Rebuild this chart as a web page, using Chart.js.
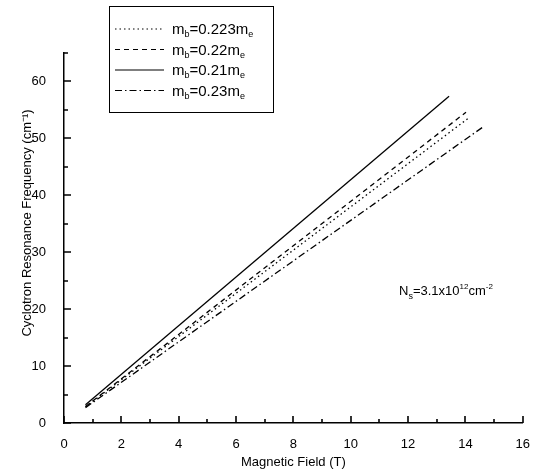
<!DOCTYPE html>
<html>

<head>
  <title>Cyclotron Resonance</title>
  <script src="https://cdn.jsdelivr.net/npm/chart.js"></script>
  <style>
    body { margin: 0; background: #fff; }
  </style>
</head>

<body>
  <canvas id="crChart" width="536" height="474"></canvas>
  <script>
    // effective masses (in units of m_e), one line each
    const massLabels = ['0.223', '0.22', '0.21', '0.23'];
    const lineDashes = [[1.5, 3], [5, 4], [], [7, 3, 1.5, 3]];

    // magnetic field (T) and resonance frequency (cm-1) at both ends of each line
    const fieldM0223 = [0.75, 14.09];
    const freqM0223 = [2.85, 53.5];
    const fieldM022 = [0.75, 14.02];
    const freqM022 = [2.9, 54.6];
    const fieldM021 = [0.75, 13.43];
    const freqM021 = [3.2, 57.4];
    const fieldM023 = [0.75, 14.64];
    const freqM023 = [2.7, 52.1];

    const xTicks = [0, 2, 4, 6, 8, 10, 12, 14, 16];
    const xMinor = [1, 3, 5, 7, 9, 11, 13, 15];
    const yTicks = [0, 10, 20, 30, 40, 50, 60];
    const yMinor = [5, 15, 25, 35, 45, 55, 65];

    const FONT = '"Liberation Sans", Arial, sans-serif';

    function toPoints(xs, ys) {
      return xs.map(function (x, i) { return { x: x, y: ys[i] }; });
    }

    const seriesData = [
      toPoints(fieldM0223, freqM0223),
      toPoints(fieldM022, freqM022),
      toPoints(fieldM021, freqM021),
      toPoints(fieldM023, freqM023)
    ];

    // draws runs of text with sub/superscripts: [text, size, baseline shift]
    function richText(ctx, parts, x, y) {
      parts.forEach(function (p) {
        ctx.font = p[1] + 'px ' + FONT;
        ctx.fillText(p[0], x, y + p[2]);
        x += ctx.measureText(p[0]).width;
      });
    }

    // short ticks pointing into the plot from the left and bottom axes
    function drawTicks(ctx, chart) {
      const xs = chart.scales.x;
      const ys = chart.scales.y;
      const left = xs.left;
      const bottom = ys.bottom;
      ctx.beginPath();
      xTicks.forEach(function (v) {
        const px = Math.round(xs.getPixelForValue(v));
        ctx.moveTo(px, bottom); ctx.lineTo(px, bottom - 7);
      });
      xMinor.forEach(function (v) {
        const px = Math.round(xs.getPixelForValue(v));
        ctx.moveTo(px, bottom); ctx.lineTo(px, bottom - 4);
      });
      yTicks.forEach(function (v) {
        const py = Math.round(ys.getPixelForValue(v));
        ctx.moveTo(left, py); ctx.lineTo(left + 7, py);
      });
      yMinor.forEach(function (v) {
        const py = Math.round(ys.getPixelForValue(v));
        ctx.moveTo(left, py); ctx.lineTo(left + 4, py);
      });
      ctx.stroke();
    }

    // inward ticks, y title, legend box and the density note
    const decorations = {
      id: 'decorations',
      afterDraw: function (chart) {
        const ctx = chart.ctx;
        ctx.save();
        ctx.setLineDash([]);
        ctx.lineCap = 'butt';
        ctx.strokeStyle = '#000';
        ctx.lineWidth = 1.6;
        drawTicks(ctx, chart);

        // y axis title
        ctx.fillStyle = '#000';
        ctx.save();
        ctx.translate(27, 223);
        ctx.rotate(-Math.PI / 2);
        ctx.font = '13px ' + FONT;
        ctx.textAlign = 'center';
        ctx.textBaseline = 'middle';
        ctx.fillText('Cyclotron Resonance Frequency (cm\u207B\u00B9)', 0, 0);
        ctx.restore();

        // legend
        ctx.fillStyle = '#fff';
        ctx.fillRect(109, 6, 164, 106);
        ctx.lineWidth = 1;
        ctx.strokeStyle = '#000';
        ctx.strokeRect(109.5, 6.5, 164, 106);
        ctx.textAlign = 'left';
        ctx.textBaseline = 'alphabetic';
        ctx.fillStyle = '#000';
        massLabels.forEach(function (m, i) {
          const ly = 29 + i * 20.5;
          ctx.beginPath();
          ctx.lineWidth = 1.2;
          ctx.setLineDash(lineDashes[i]);
          ctx.moveTo(115, ly);
          ctx.lineTo(164, ly);
          ctx.stroke();
          ctx.setLineDash([]);
          richText(ctx, [['m', 15, 0], ['b', 9, 3], ['=' + m + 'm', 15, 0], ['e', 9, 3]], 172, ly + 5);
        });

        // sheet density note
        richText(ctx, [['N', 13, 0], ['s', 9, 4], ['=3.1x10', 13, 0], ['12', 8, -6],
          ['cm', 13, 0], ['-2', 8, -6]], 399, 295);
        ctx.restore();
      }
    };

    const canvas = document.getElementById('crChart');
    new Chart(canvas, {
      type: 'line',
      data: {
        datasets: seriesData.map(function (pts, i) {
          return {
            label: 'mb=' + massLabels[i] + 'me',
            data: pts,
            borderColor: '#000',
            borderWidth: 1.3,
            borderDash: lineDashes[i],
            pointRadius: 0,
            tension: 0,
            fill: false
          };
        })
      },
      options: {
        responsive: false,
        animation: false,
        layout: { padding: { top: 53, right: 12, left: 0, bottom: 0 } },
        plugins: {
          legend: { display: false },
          tooltip: { enabled: false }
        },
        scales: {
          x: {
            type: 'linear',
            min: 0,
            max: 16,
            afterBuildTicks: function (s) { s.ticks = xTicks.map(function (v) { return { value: v }; }); },
            afterFit: function (s) { s.height = 51; },
            grid: { display: false },
            border: { display: true, color: '#000', width: 1.5 },
            ticks: { color: '#000', padding: 6, maxRotation: 0, font: { family: FONT, size: 13 } },
            title: {
              display: true,
              text: 'Magnetic Field (T)',
              color: '#000',
              font: { family: FONT, size: 13 },
              padding: { top: 0, bottom: 4 }
            }
          },
          y: {
            type: 'linear',
            min: 0,
            max: 65,
            afterBuildTicks: function (s) { s.ticks = yTicks.map(function (v) { return { value: v }; }); },
            afterFit: function (s) { s.width = 64; },
            grid: { display: false },
            border: { display: true, color: '#000', width: 1.5 },
            ticks: { color: '#000', padding: 10, font: { family: FONT, size: 13 } }
          }
        }
      },
      plugins: [decorations]
    });
  </script>
</body>

</html>
